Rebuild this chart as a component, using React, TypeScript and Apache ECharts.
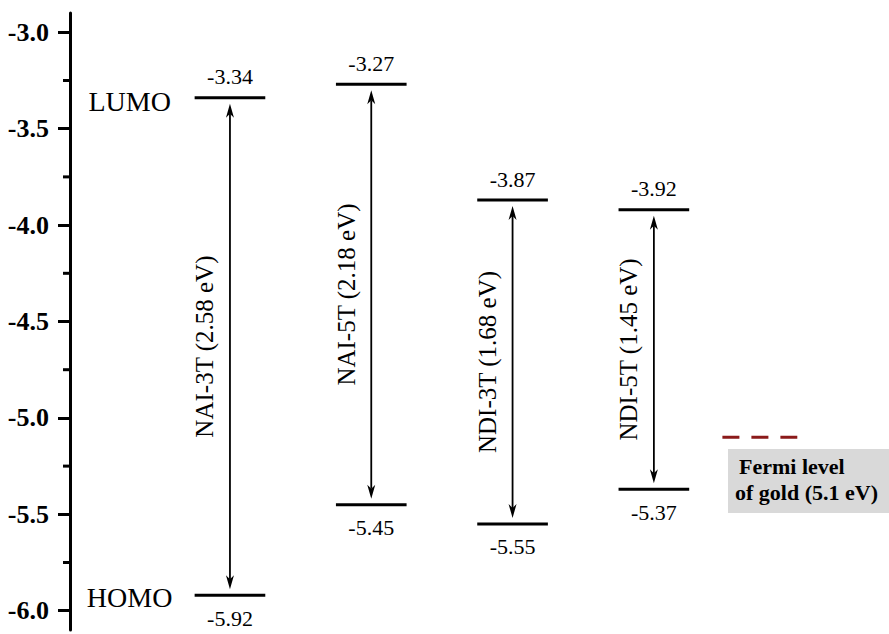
import React, { useEffect, useRef } from "react";
import * as echarts from "echarts";

const molecules = ["NAI-3T", "NAI-5T", "NDI-3T", "NDI-5T"];
const gapsEV = ["2.58", "2.18", "1.68", "1.45"];
const lumo = [-3.34, -3.27, -3.87, -3.92];
const homo = [-5.92, -5.45, -5.55, -5.37];
const fermiLevel = -5.1;
const majorTicks = [-6.0, -5.5, -5.0, -4.5, -4.0, -3.5, -3.0];
const minorTicks = [-5.75, -5.25, -4.75, -4.25, -3.75, -3.25];

const SERIF = "Liberation Serif";
const HALF = 0.25;
const X_MIN = -0.132;
const X_MAX = 5.664;
const FERMI_X = 4.75;
const FERMI_HALF = 0.265;

export default function App() {
  const ref = useRef<HTMLDivElement>(null);
  useEffect(() => {
    if (!ref.current) return;
    const chart = echarts.init(ref.current, undefined, { renderer: "svg" });
    const levelData = molecules.map((m, i) => [i + 1, lumo[i], homo[i]]);

    const renderItem = (params: any, api: any) => {
      const i = params.dataIndex;
      const x = api.value(0);
      const lu = api.value(1);
      const ho = api.value(2);
      const pL1 = api.coord([x - HALF, lu]);
      const pL2 = api.coord([x + HALF, lu]);
      const pH1 = api.coord([x - HALF, ho]);
      const pH2 = api.coord([x + HALF, ho]);
      const cx = api.coord([x, lu])[0];
      const yL = pL1[1];
      const yH = pH1[1];
      const tipTop = yL + 6;
      const tipBot = yH - 6;
      const hl = 14;
      const hw = 4;
      const children: any[] = [
        { type: "line", shape: { x1: pL1[0], y1: yL, x2: pL2[0], y2: yL }, style: { stroke: "#000", lineWidth: 3 } },
        { type: "line", shape: { x1: pH1[0], y1: yH, x2: pH2[0], y2: yH }, style: { stroke: "#000", lineWidth: 3 } },
        {
          type: "text",
          x: cx,
          y: yL - 21,
          style: { text: lu.toFixed(2), align: "center", verticalAlign: "middle", fill: "#000", fontSize: 22, fontFamily: SERIF },
        },
        {
          type: "text",
          x: cx,
          y: yH + 23,
          style: { text: ho.toFixed(2), align: "center", verticalAlign: "middle", fill: "#000", fontSize: 22, fontFamily: SERIF },
        },
        { type: "line", shape: { x1: cx, y1: tipTop + hl - 4, x2: cx, y2: tipBot - hl + 4 }, style: { stroke: "#000", lineWidth: 1.8 } },
        {
          type: "polygon",
          shape: { points: [[cx, tipTop], [cx - hw, tipTop + hl], [cx, tipTop + hl - 4], [cx + hw, tipTop + hl]] },
          style: { fill: "#000" },
        },
        {
          type: "polygon",
          shape: { points: [[cx, tipBot], [cx - hw, tipBot - hl], [cx, tipBot - hl + 4], [cx + hw, tipBot - hl]] },
          style: { fill: "#000" },
        },
        {
          type: "text",
          x: cx - 25,
          y: (yL + yH) / 2,
          rotation: Math.PI / 2,
          style: {
            text: `${molecules[i]} (${gapsEV[i]} eV)`,
            align: "center",
            verticalAlign: "middle",
            fill: "#000",
            fontSize: 25,
            fontFamily: SERIF,
          },
        },
      ];
      if (i === 0) {
        children.push(
          {
            type: "text",
            x: pL1[0] - 65,
            y: yL + 4,
            style: { text: "LUMO", align: "center", verticalAlign: "middle", fill: "#000", fontSize: 28, fontFamily: SERIF },
          },
          {
            type: "text",
            x: pH1[0] - 65,
            y: yH + 2,
            style: { text: "HOMO", align: "center", verticalAlign: "middle", fill: "#000", fontSize: 28, fontFamily: SERIF },
          }
        );
      }
      return { type: "group", children };
    };

    const renderMinorTick = (params: any, api: any) => {
      const p = api.coord([X_MIN, api.value(0)]);
      return {
        type: "line",
        shape: { x1: p[0] - 7, y1: p[1], x2: p[0], y2: p[1] },
        style: { stroke: "#000", lineWidth: 3 },
      };
    };

    chart.setOption({
      animation: false,
      backgroundColor: "#fff",
      grid: { left: 70, right: 0, top: 13, bottom: 4, containLabel: false, outerBoundsMode: "none" },
      xAxis: { type: "value", min: X_MIN, max: X_MAX, show: false, axisLine: { onZero: false } },
      yAxis: {
        type: "value",
        min: -6.1,
        max: -2.9,
        position: "left",
        axisLine: { show: true, onZero: false, lineStyle: { color: "#000", width: 3 } },
        axisTick: { show: true, customValues: majorTicks, length: 12, lineStyle: { color: "#000", width: 3 } },
        axisLabel: {
          customValues: majorTicks,
          formatter: (v: number) => v.toFixed(1),
          margin: 21,
          color: "#000",
          fontSize: 26,
          fontWeight: "bold",
          fontFamily: SERIF,
        },
        splitLine: { show: false },
      },
      series: [
        {
          type: "custom",
          renderItem,
          data: levelData,
          clip: false,
          encode: { x: 0, y: [1, 2] },
        },
        {
          type: "custom",
          renderItem: renderMinorTick,
          data: minorTicks.map((v) => [v]),
          clip: false,
          encode: { y: 0 },
          silent: true,
        },
        {
          type: "line",
          symbol: "none",
          data: [
            [FERMI_X - FERMI_HALF, fermiLevel],
            [FERMI_X + FERMI_HALF, fermiLevel],
          ],
          lineStyle: { color: "#8b1a1a", width: 3, type: [17, 12] },
          silent: true,
        },
      ],
      graphic: [
        {
          type: "rect",
          left: 728,
          top: 449,
          shape: { width: 161, height: 64 },
          style: { fill: "#d9d9d9" },
        },
        {
          type: "text",
          left: 739,
          top: 455,
          style: { text: "Fermi level", fill: "#000", fontSize: 22, fontWeight: "bold", fontFamily: SERIF },
        },
        {
          type: "text",
          left: 735,
          top: 481,
          style: { text: "of gold (5.1 eV)", fill: "#000", fontSize: 22, fontWeight: "bold", fontFamily: SERIF },
        },
      ],
    });
    return () => chart.dispose();
  }, []);
  return <div ref={ref} style={{ position: "absolute", left: 0, top: 0, width: 889, height: 634 }} />;
}
